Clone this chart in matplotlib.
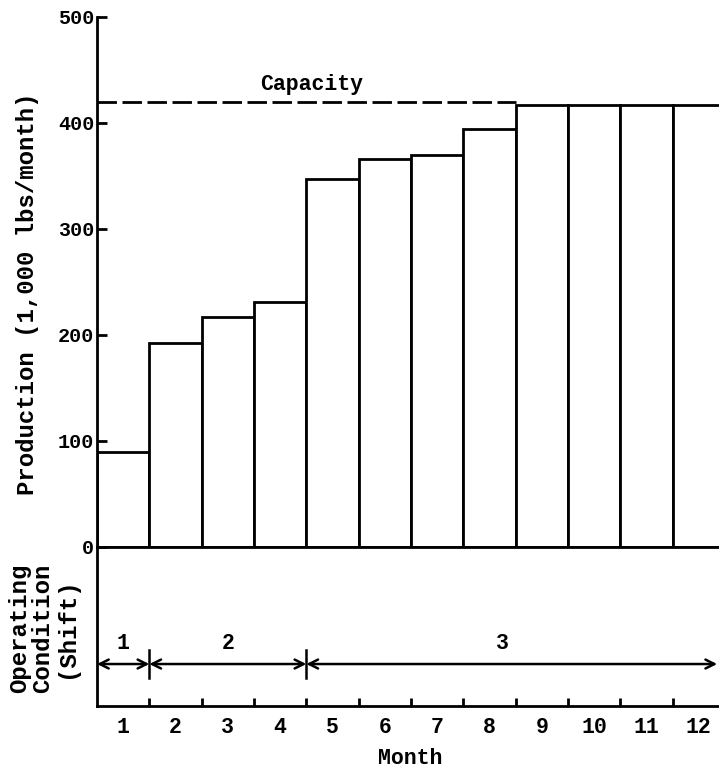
import matplotlib
matplotlib.use("Agg")
import matplotlib.pyplot as plt
import numpy as np

# Monthly production (1,000 lbs/month)
months = [1, 2, 3, 4, 5, 6, 7, 8, 9, 10, 11, 12]
production = [90, 192, 217, 231, 347, 366, 370, 394, 417, 417, 417, 417]
capacity = 420

# Operating condition (number of shifts) by month span
shift_labels = ["1", "2", "3"]
shift_start = [0.5, 1.5, 4.5]
shift_end = [1.5, 4.5, 12.35]
shift_label_x = [1.0, 3.0, 8.25]

yticks = [0, 100, 200, 300, 400, 500]

plt.rcParams["font.family"] = ["Liberation Mono", "DejaVu Sans Mono"]
plt.rcParams["font.weight"] = "bold"
FS_TICK = 14.5
FS_TEXT = 15.5
FS_LABEL = 17.3
LW = 2.0

fig = plt.figure(figsize=(7.19, 7.69), dpi=100)
W, H = 719, 769
left = 97 / W
right_px = 725
ax = fig.add_axes([left, 1 - 547 / H, (right_px - 97) / W, (547 - 17) / H])
ax2 = fig.add_axes([left, 1 - 706 / H, (right_px - 97) / W, (706 - 547) / H])
ax2.patch.set_visible(False)

# Production bars
ax.bar(months, production, width=1.0, facecolor="white", edgecolor="black",
       linewidth=LW, zorder=2)
ax.plot([0.5, 8.5], [capacity, capacity], color="black", linewidth=LW,
        dashes=(7, 2.0), zorder=3)
ax.text(4.6, capacity + 6, "Capacity", ha="center", va="bottom",
        fontsize=FS_TEXT, fontweight="bold")

ax.set_xlim(0.5, 12.5)
ax.set_ylim(0, 500)
ax.set_yticks(yticks)
ax.set_yticklabels([str(v) for v in yticks], fontsize=FS_TICK,
                   fontweight="bold")
ax.tick_params(axis="y", direction="in", length=7, width=LW, pad=2)
ax.set_xticks([])
for s in ["top", "right"]:
    ax.spines[s].set_visible(False)
ax.spines["left"].set_linewidth(LW)
ax.spines["bottom"].set_linewidth(LW)
fig.text(28 / W, 1 - 294 / H, "Production (1,000 lbs/month)", rotation=90,
         ha="center", va="center", fontsize=FS_LABEL, fontweight="bold")

# Operating condition panel
ax2.set_xlim(0.5, 12.5)
ax2.set_ylim(0, 1)
arrow_y = 0.264
label_y = 0.39
for x0, x1, lab, lx in zip(shift_start, shift_end, shift_labels, shift_label_x):
    ax2.annotate("", xy=(x1, arrow_y), xytext=(x0, arrow_y),
                 arrowprops=dict(arrowstyle="<->", color="black", lw=1.8,
                                 shrinkA=0, shrinkB=0, mutation_scale=16))
    ax2.text(lx, label_y, lab, ha="center", va="center", fontsize=FS_TEXT,
             fontweight="bold")
for xb in shift_start[1:]:
    ax2.plot([xb, xb], [arrow_y - 0.09, arrow_y + 0.09], color="black",
             linewidth=1.8)

ax2.set_xticks(months)
ax2.set_xticklabels([str(m) for m in months], fontsize=FS_TEXT,
                    fontweight="bold")
ax2.set_xticks(np.arange(1.5, 12.5, 1.0), minor=True)
ax2.tick_params(axis="x", which="major", length=0, pad=8)
ax2.tick_params(axis="x", which="minor", direction="in", length=6, width=LW)
ax2.set_yticks([])
for s in ["top", "right"]:
    ax2.spines[s].set_visible(False)
ax2.spines["left"].set_linewidth(LW)
ax2.spines["bottom"].set_linewidth(LW)
fig.text(410 / W, 1 - 759 / H, "Month", ha="center", va="center",
         fontsize=FS_TEXT, fontweight="bold")
fig.text(43 / W, 1 - 628 / H, "Operating\nCondition\n(Shift)", rotation=90,
         ha="center", va="center", fontsize=FS_LABEL, fontweight="bold",
         linespacing=1.0, multialignment="center")

fig.savefig("out.png", dpi=100, facecolor="white")
